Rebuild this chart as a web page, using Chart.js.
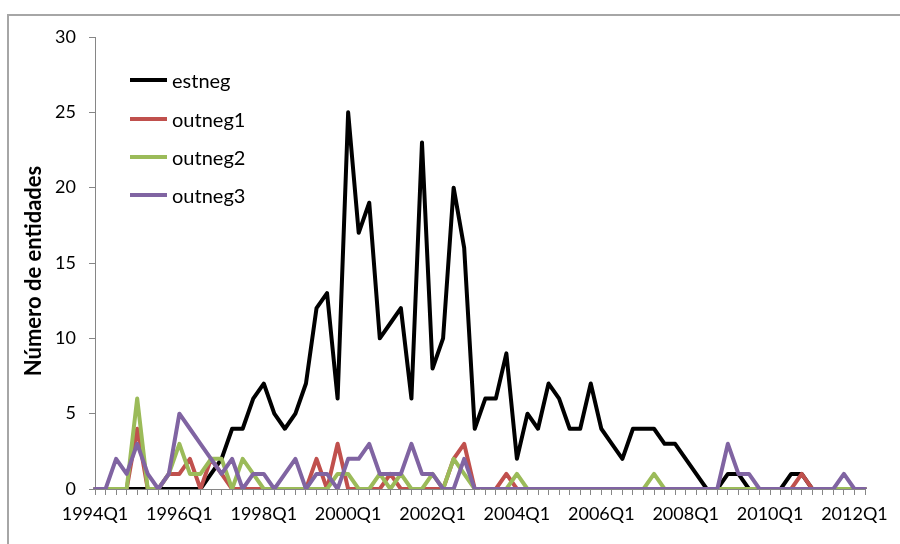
<!DOCTYPE html>
<html>
<head>
<meta charset="utf-8">
<script src="https://cdn.jsdelivr.net/npm/chart.js@4.4.1/dist/chart.umd.min.js"></script>
<style>
  html, body { margin: 0; padding: 0; background: #fff; }
  #wrap { position: relative; width: 900px; height: 544px; }
  #legend { position: absolute; left: 130px; top: 61px; font-family: Lato, sans-serif; font-size: 20px; color: #000; }
  .item { display: flex; align-items: center; height: 38.4px; }
  .swatch { width: 37px; height: 4px; margin-right: 5px; }
  #ytitle {
    position: absolute; left: 33px; top: 271px; width: 300px; margin-left: -150px;
    height: 24px; margin-top: -12px; line-height: 24px; text-align: center;
    transform: rotate(-90deg); font-family: Lato, sans-serif; font-weight: bold;
    font-size: 22px; color: #000; white-space: nowrap;
  }
</style>
</head>
<body>
<div id="wrap">
  <canvas id="chart" width="900" height="544"></canvas>
  <div id="legend"></div>
  <div id="ytitle"></div>
</div>
<script>
// quarters 1994Q1 .. 2012Q2
const quarters = [];
for (let y = 1994; y <= 2012; y++) {
  for (let q = 1; q <= 4; q++) {
    if (y === 2012 && q > 2) break;
    quarters.push(y + "Q" + q);
  }
}

const tickLabels = ["1994Q1","1996Q1","1998Q1","2000Q1","2002Q1","2004Q1","2006Q1","2008Q1","2010Q1","2012Q1"];
const yTicks = [0, 5, 10, 15, 20, 25, 30];
const yTitle = "Número de entidades";

const seriesNames = ["estneg", "outneg1", "outneg2", "outneg3"];
const seriesColors = ["#000000", "#C0504D", "#9BBB59", "#8064A2"];

const estneg = [
  0,0,0,0,0,0,0,0,0,0,0,1,2,4,4,6,7,5,4,5,
  7,12,13,6,25,17,19,10,11,12,6,23,8,10,20,16,4,6,6,9,
  2,5,4,7,6,4,4,7,4,3,2,4,4,4,3,3,2,1,0,0,
  1,1,0,0,0,0,1,1,0,0,0,0,0,0
];
const outneg1 = [
  0,0,0,0,4,0,0,1,1,2,0,2,1,0,0,0,0,0,0,0,
  0,2,0,3,0,0,0,0,1,0,0,0,0,0,2,3,0,0,0,1,
  0,0,0,0,0,0,0,0,0,0,0,0,0,0,0,0,0,0,0,0,
  0,0,0,0,0,0,0,1,0,0,0,0,0,0
];
const outneg2 = [
  0,0,0,0,6,0,0,1,3,1,1,2,2,0,2,1,0,0,0,0,
  0,0,0,1,1,0,0,1,0,1,0,0,1,0,2,1,0,0,0,0,
  1,0,0,0,0,0,0,0,0,0,0,0,0,1,0,0,0,0,0,0,
  0,0,0,0,0,0,0,0,0,0,0,0,0,0
];
const outneg3 = [
  0,0,2,1,3,1,0,1,5,4,3,2,1,2,0,1,1,0,1,2,
  0,1,1,0,2,2,3,1,1,1,3,1,1,0,0,2,0,0,0,0,
  0,0,0,0,0,0,0,0,0,0,0,0,0,0,0,0,0,0,0,0,
  3,1,1,0,0,0,0,0,0,0,0,1,0,0
];

const seriesData = [estneg, outneg1, outneg2, outneg3];
const axisGrey = "#868686";
const font = "Lato";

// legend (html, inside plot area)
const legendBox = document.getElementById("legend");
seriesNames.forEach((name, i) => {
  const row = document.createElement("div");
  row.className = "item";
  const sw = document.createElement("span");
  sw.className = "swatch";
  sw.style.background = seriesColors[i];
  const txt = document.createElement("span");
  txt.textContent = name;
  row.appendChild(sw);
  row.appendChild(txt);
  legendBox.appendChild(row);
});
document.getElementById("ytitle").textContent = yTitle;

// outer frame
const framePlugin = {
  id: "frame",
  beforeDraw(chart) {
    const ctx = chart.ctx;
    ctx.save();
    ctx.strokeStyle = "#a6a6a6";
    ctx.lineWidth = 2;
    ctx.strokeRect(8, 15, 1000, 1000);
    ctx.restore();
  }
};

new Chart(document.getElementById("chart"), {
  type: "line",
  data: {
    labels: quarters,
    datasets: seriesNames.map((name, i) => ({
      label: name,
      data: seriesData[i],
      borderColor: seriesColors[i],
      backgroundColor: seriesColors[i],
      borderWidth: 4,
      pointRadius: 0,
      tension: 0,
      borderJoinStyle: "round",
      borderCapStyle: "round",
      order: seriesNames.length - i
    }))
  },
  options: {
    responsive: false,
    animation: false,
    layout: { padding: { left: 10, top: 37, right: 35, bottom: 0 } },
    plugins: {
      legend: { display: false },
      tooltip: { enabled: false }
    },
    scales: {
      x: {
        offset: false,
        grid: { drawOnChartArea: false, tickLength: 6, color: axisGrey, offset: false },
        border: { color: axisGrey, width: 1 },
        ticks: {
          autoSkip: false,
          maxRotation: 0,
          minRotation: 0,
          padding: 8,
          color: "#000",
          font: { family: font, size: 18 },
          callback: function (v) {
            const l = this.getLabelForValue(v);
            return tickLabels.includes(l) ? l : "";
          }
        },
        afterFit: s => { s.height = 55; }
      },
      y: {
        min: yTicks[0],
        max: yTicks[yTicks.length - 1],
        grid: { drawOnChartArea: false, tickLength: 6, color: axisGrey },
        border: { color: axisGrey, width: 1 },
        ticks: {
          stepSize: 5,
          padding: 13,
          color: "#000",
          font: { family: font, size: 18 }
        },
        afterFit: s => { s.width = 85; }
      }
    }
  },
  plugins: [framePlugin]
});
</script>
</body>
</html>
